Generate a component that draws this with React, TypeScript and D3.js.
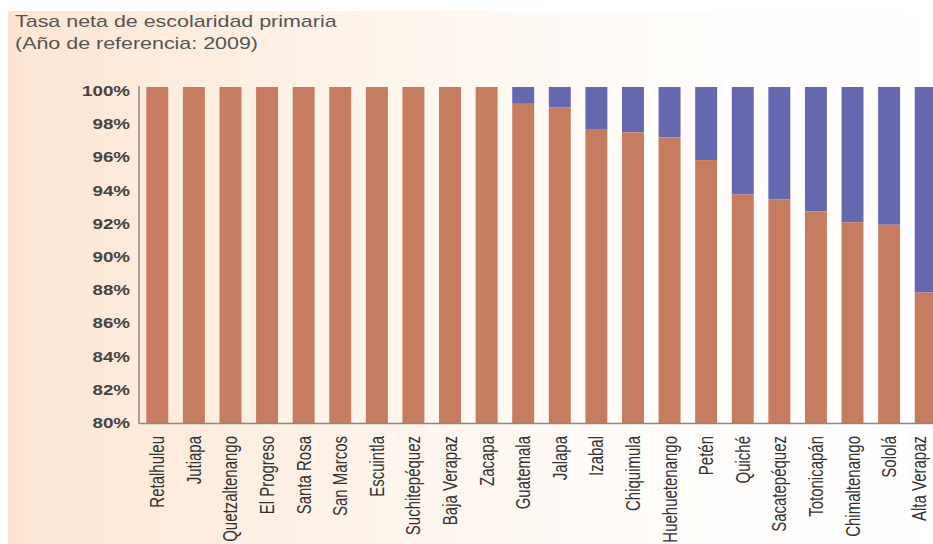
import React from "react";
import * as d3 from "d3";

const categories = [
  "Retalhuleu", "Jutiapa", "Quetzaltenango", "El Progreso", "Santa Rosa", "San Marcos",
  "Escuintla", "Suchitepéquez", "Baja Verapaz", "Zacapa", "Guatemala", "Jalapa", "Izabal",
  "Chiquimula", "Huehuetenango", "Petén", "Quiché", "Sacatepéquez", "Totonicapán",
  "Chimaltenango", "Sololá", "Alta Verapaz",
];
const tasaNeta = [
  100, 100, 100, 100, 100, 100, 100, 100, 100, 100, 99.0, 98.8, 97.5, 97.3, 97.0, 95.65,
  93.6, 93.3, 92.6, 91.95, 91.8, 87.76,
];
const yTicks = [80, 82, 84, 86, 88, 90, 92, 94, 96, 98, 100];
const titleLines = ["Tasa neta de escolaridad primaria", "(Año de referencia: 2009)"];

const W = 933;
const H = 544;
const SX = 1.34;
const ORANGE = "#C67C5F";
const BLUE = "#6568AE";
const FONT = "'Liberation Sans', Arial, sans-serif";

export default function App() {
  const x = d3.scaleBand<string>().domain(categories).range([139, 944]).paddingInner(0.4).paddingOuter(0.2);
  const y = d3.scaleLinear().domain([80, 100]).range([423, 87]);
  const fmt = (v: number) => `${v}%`;

  return (
    <svg width={W} height={H} style={{ position: "absolute", left: 0, top: 0, display: "block" }}>
      <defs>
        <linearGradient id="bg" x1="0" x2="1" y1="0" y2="0">
          <stop offset="0" stopColor="#FDE5D2" />
          <stop offset="0.45" stopColor="#FEF6EE" />
          <stop offset="0.75" stopColor="#FFFDFB" />
          <stop offset="1" stopColor="#FFFFFF" />
        </linearGradient>
      </defs>
      <rect x={0} y={0} width={W} height={H} fill="#fff" />
      <rect x={8} y={11} width={W - 8} height={H - 11} fill="url(#bg)" />

      {titleLines.map((t, i) => (
        <text
          key={t}
          transform={`translate(15,${27 + i * 22}) scale(${SX},1)`}
          fontFamily={FONT}
          fontSize={16}
          fill="#555"
        >
          {t}
        </text>
      ))}

      {categories.map((c, i) => {
        const v = tasaNeta[i];
        const bx = x(c)!;
        const bw = x.bandwidth();
        const lx = Math.min(bx + bw / 2 + 7, 926);
        return (
          <g key={c}>
            <rect x={bx} y={y(100)} width={bw} height={y(v) - y(100)} fill={BLUE} />
            <rect x={bx} y={y(v)} width={bw} height={y(80) - y(v)} fill={ORANGE} />
            <text
              transform={`translate(${lx},${y(80) + 13}) scale(${SX},1) rotate(-90)`}
              textAnchor="end"
              fontFamily={FONT}
              fontSize={15}
              fill="#333"
            >
              {c}
            </text>
          </g>
        );
      })}

      {yTicks.map((t) => (
        <text
          key={t}
          transform={`translate(130,${y(t) + 5 + (t - 80) * 0.2}) scale(${SX},1)`}
          textAnchor="end"
          fontFamily={FONT}
          fontSize={14}
          fontWeight="bold"
          fill="#444"
        >
          {fmt(t)}
        </text>
      ))}

      <line x1={139} x2={139} y1={86} y2={424} stroke="#888" strokeWidth={1.5} />
      <line x1={139} x2={W} y1={423.5} y2={423.5} stroke="#888" strokeWidth={1.5} />
    </svg>
  );
}
